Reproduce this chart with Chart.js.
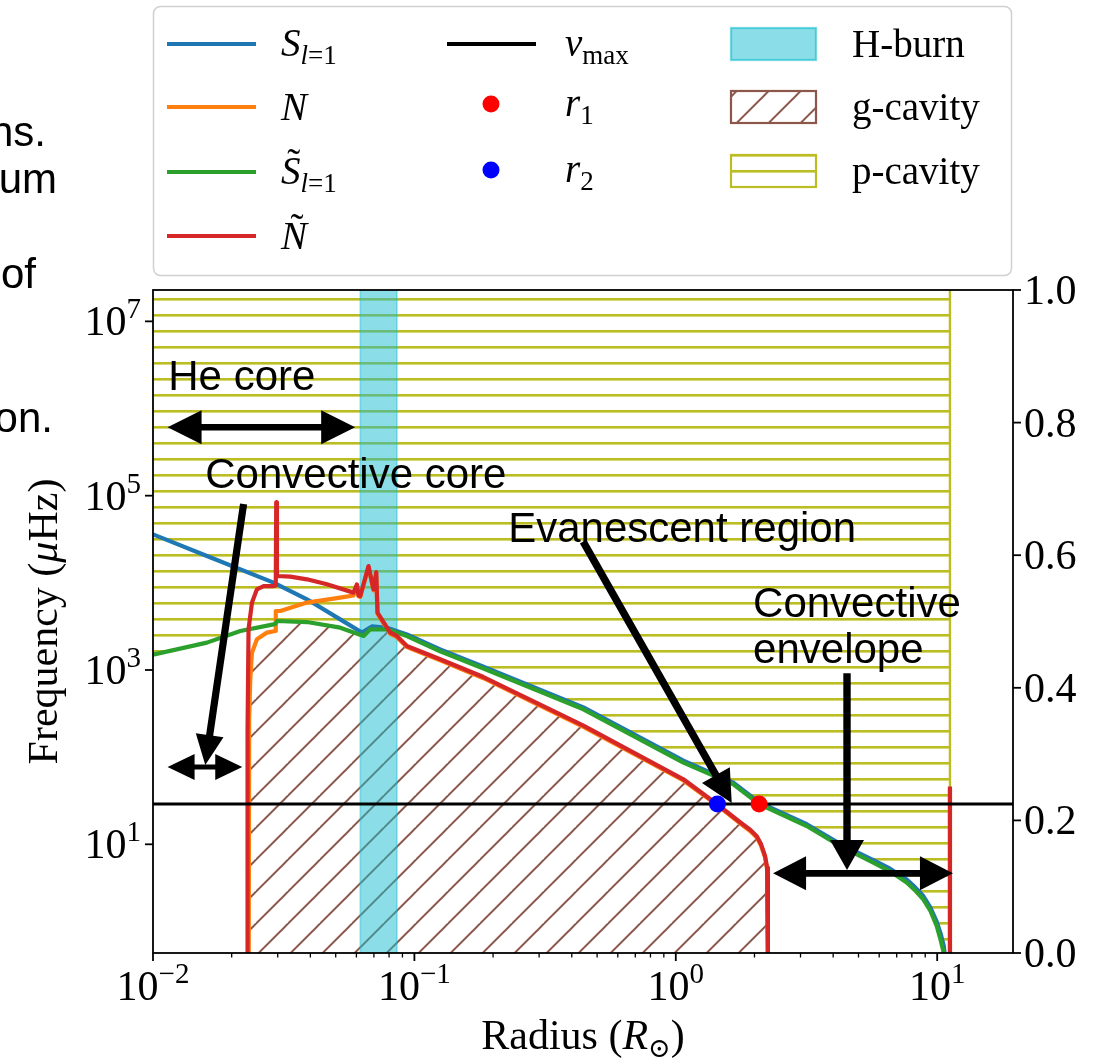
<!DOCTYPE html>
<html>
<head>
<meta charset="utf-8">
<script src="https://cdn.jsdelivr.net/npm/chart.js@4.4.1/dist/chart.umd.min.js"></script>
<style>
  html, body { margin: 0; padding: 0; background: #fff; }
</style>
</head>
<body>
<canvas id="freqChart" width="1113" height="1064"></canvas>
<script>
// axis ranges and ticks
const xMin = 0.01, xMax = 19.5;
const yMin = 0.566, yMax = 2.29e7;
const xTicks = [0.01, 0.1, 1, 10];
const xTickExp = ['\u22122', '\u22121', '0', '1'];
const yTicks = [1e1, 1e3, 1e5, 1e7];
const yTickExp = ['1', '3', '5', '7'];
const rightTicks = [0, 0.2, 0.4, 0.6, 0.8, 1.0];

// [radius (Rsun), frequency (uHz)]
const lambS = [[0.01, 36000], [0.01608, 20300], [0.02892, 10050], [0.03881, 6470], [0.05202, 3810],
  [0.0630, 2690], [0.06896, 3170], [0.07849, 3050], [0.09361, 2560], [0.1255, 1720], [0.1838, 1090],
  [0.4433, 372], [1.0693, 91], [1.661, 51], [2.083, 30.3], [3.170, 17.0], [4.249, 10.1], [5.696, 6.6],
  [6.6, 5.25], [7.644, 3.95], [8.2, 3.25], [8.848, 2.55], [9.4, 1.9], [9.957, 1.3], [10.3, 0.95],
  [10.6, 0.68], [10.8, 0.4]];

const bruntN = [[0.02324, 0.4], [0.02333, 272], [0.02356, 782], [0.02391, 1580], [0.02498, 2250],
  [0.02729, 2685], [0.02936, 2800], [0.02949, 4750], [0.03068, 4750], [0.03881, 5930], [0.05202, 6760],
  [0.05849, 7150], [0.06027, 9000], [0.06114, 7000], [0.06207, 6900], [0.06675, 15000], [0.06975, 8200],
  [0.07144, 12800], [0.07226, 4400], [0.08082, 2600], [0.08574, 2380], [0.09361, 1830], [0.1255, 1290],
  [0.1838, 805], [0.4433, 223], [1.0693, 54], [1.435, 28.3], [1.762, 17.4], [1.93, 14.1], [2.041, 12.0],
  [2.12, 9.6], [2.195, 7.1], [2.235, 5.2], [2.25, 2.4], [2.252, 0.4], [5, null], [11.19, 0.4], [11.19, 44]];

const lambSmod = [[0.01, 1500], [0.01608, 2060], [0.02158, 2800], [0.02892, 3340], [0.0294, 3380],
  [0.0298, 3650], [0.03881, 3550], [0.05202, 3060], [0.06391, 2455], [0.06776, 2930], [0.07849, 2930],
  [0.09361, 2450], [0.1255, 1640], [0.1838, 1040], [0.4433, 354], [1.0693, 86.6], [1.661, 48.8],
  [2.083, 29], [3.170, 16.2], [4.249, 9.57], [5.696, 6.17], [6.6, 4.9], [7.644, 3.64], [8.2, 3.0],
  [8.848, 2.34], [9.4, 1.75], [9.957, 1.16], [10.25, 0.85], [10.55, 0.60], [10.65, 0.4]];

const bruntNmod = [[0.0230, 0.4], [0.0230, 208], [0.0232, 2930], [0.02391, 5930], [0.02498, 8430],
  [0.02649, 9190], [0.02892, 9190], [0.02949, 9300], [0.02961, 83900], [0.0298, 11970], [0.0335, 11780],
  [0.03881, 10970], [0.04628, 9610], [0.05849, 7720], [0.06027, 9610], [0.06114, 7190], [0.06207, 7060],
  [0.06675, 15590], [0.06975, 8430], [0.07144, 13300], [0.07226, 4550], [0.08082, 2685], [0.08574, 2455],
  [0.09361, 1884], [0.1255, 1327], [0.1838, 830], [0.4433, 230], [1.0693, 55.7], [1.435, 29],
  [1.762, 17.9], [1.93, 14.6], [2.041, 12.4], [2.12, 10.0], [2.195, 7.35], [2.235, 5.4], [2.25, 2.5],
  [2.252, 0.4], [5, null], [11.19, 0.4], [11.19, 46]];

// upper edge of the g-cavity (lowest of N, S~, N~)
const gCavityTop = [[0.0230, 0.4], [0.0231, 200], [0.02356, 782], [0.02391, 1580], [0.02498, 2250],
  [0.02729, 2685], [0.02936, 2800], [0.02945, 3380], [0.0298, 3650], [0.03881, 3550], [0.05202, 3060],
  [0.06391, 2455], [0.06776, 2930], [0.07849, 2930], [0.08082, 2685], [0.08574, 2455], [0.09361, 1884],
  [0.1255, 1327], [0.1838, 830], [0.4433, 230], [1.0693, 55.7], [1.435, 29], [1.762, 17.9], [1.93, 14.6],
  [2.041, 12.4], [2.12, 10.0], [2.195, 7.35], [2.235, 5.4], [2.25, 2.5], [2.252, 0.4]];

const rStar = 11.19;
const hBurn = [0.0621, 0.0857];
const numax = 29;
const r1 = [2.083, 29];
const r2 = [1.443, 29];

const SERIF = '"Liberation Serif", "DejaVu Serif", serif';
const SANS = '"Liberation Sans", Arial, sans-serif';
const C = { blue: '#1f77b4', orange: '#ff7f0e', green: '#2ca02c', red: '#d62728',
  olive: '#bcbd22', brown: '#8c564b', cyan: 'rgba(23,190,207,0.5)' };

const pts = a => a.map(p => ({ x: p[0], y: p[1] }));

const canvas = document.getElementById('freqChart');
const ctx = canvas.getContext('2d');

function hatchLines() {
  const c = document.createElement('canvas');
  c.width = 16; c.height = 16;
  const g = c.getContext('2d');
  g.fillStyle = C.olive;
  g.fillRect(0, 10, 16, 2.6);
  return ctx.createPattern(c, 'repeat');
}
function hatchDiag() {
  const c = document.createElement('canvas');
  c.width = 32; c.height = 32;
  const g = c.getContext('2d');
  g.strokeStyle = C.brown;
  g.lineWidth = 2;
  [-4.3, 27.7, 59.7].forEach(s => {
    g.beginPath(); g.moveTo(s + 4, -4); g.lineTo(s - 36, 36); g.stroke();
  });
  return ctx.createPattern(c, 'repeat');
}
const patH = hatchLines();
const patD = hatchDiag();

function fontOf(s, it) { return (it ? 'italic ' : '') + s + 'px ' + SERIF; }

// draw a run of text pieces {t, s, i, dy, tilde}
function drawMath(g, x, y, parts, align) {
  let w = 0;
  parts.forEach(p => { g.font = fontOf(p.s, p.i); w += g.measureText(p.t).width; });
  let cx = align === 'right' ? x - w : align === 'center' ? x - w / 2 : x;
  g.textAlign = 'left';
  g.textBaseline = 'alphabetic';
  parts.forEach(p => {
    g.font = fontOf(p.s, p.i);
    const pw = g.measureText(p.t).width;
    g.fillText(p.t, cx, y + (p.dy || 0));
    if (p.tilde) {
      g.font = fontOf(p.s, false);
      const tw = g.measureText('\u02dc').width;
      g.fillText('\u02dc', cx + pw / 2 - tw / 2 + 3, y - p.s * 0.2);
    }
    cx += pw;
  });
  return w;
}

function arrow(g, x0, y0, x1, y1, sw, hl, hw, both) {
  const L = Math.hypot(x1 - x0, y1 - y0);
  g.save();
  g.translate(x0, y0);
  g.rotate(Math.atan2(y1 - y0, x1 - x0));
  g.beginPath();
  if (both) { g.moveTo(0, 0); g.lineTo(hl, -hw); g.lineTo(hl, -sw); }
  else g.moveTo(0, -sw);
  g.lineTo(L - hl, -sw); g.lineTo(L - hl, -hw); g.lineTo(L, 0); g.lineTo(L - hl, hw); g.lineTo(L - hl, sw);
  if (both) { g.lineTo(hl, sw); g.lineTo(hl, hw); }
  else g.lineTo(0, sw);
  g.closePath();
  g.fillStyle = '#000';
  g.fill();
  g.restore();
}

const notes = [
  { t: 'He core', x: 0.01144, y: 1.633e6 },
  { t: 'Convective core', x: 0.01585, y: 1.226e5 },
  { t: 'Evanescent region', x: 0.2284, y: 2.966e4 },
  { t: 'Convective', x: 1.975, y: 4089 },
  { t: 'envelope', x: 1.975, y: 1203 }
];
const arrows = [
  { a: [0.01137, 6.093e5], b: [0.05935, 6.093e5], both: true, sw: 3.2, hl: 34, hw: 17 },
  { a: [0.02221, 8.03e4], b: [0.01585, 81.3], both: false, sw: 3.6, hl: 30, hw: 14 },
  { a: [0.01137, 77.1], b: [0.02195, 77.1], both: true, sw: 2.6, hl: 27, hw: 13 },
  { a: [0.4421, 2.966e4], b: [1.637, 29.8], both: false, sw: 3.7, hl: 32, hw: 16 },
  { a: [4.519, 916.7], b: [4.519, 5.07], both: false, sw: 3.7, hl: 30, hw: 17 },
  { a: [2.356, 4.65], b: [11.49, 4.65], both: true, sw: 3.4, hl: 33, hw: 17 }
];

const overlay = {
  id: 'overlay',
  beforeDraw(chart) {
    const g = chart.ctx;
    g.save();
    g.fillStyle = '#fff';
    g.fillRect(0, 0, chart.width, chart.height);
    g.restore();
  },
  afterDatasetsDraw(chart) {
    const g = chart.ctx, xs = chart.scales.x, ys = chart.scales.y;
    g.save();
    g.fillStyle = '#000';
    g.font = '42px ' + SANS;
    g.textAlign = 'left';
    g.textBaseline = 'alphabetic';
    notes.forEach(n => g.fillText(n.t, xs.getPixelForValue(n.x), ys.getPixelForValue(n.y)));
    arrows.forEach(r => arrow(g, xs.getPixelForValue(r.a[0]), ys.getPixelForValue(r.a[1]),
      xs.getPixelForValue(r.b[0]), ys.getPixelForValue(r.b[1]), r.sw, r.hl, r.hw, r.both));
    g.restore();
  },
  afterDraw(chart) {
    const g = chart.ctx, a = chart.chartArea;
    const xs = chart.scales.x, ys = chart.scales.y, y2 = chart.scales.y2;
    g.save();
    g.strokeStyle = '#000';
    g.fillStyle = '#000';

    // ticks
    const tick = (x0, y0, x1, y1, w) => { g.lineWidth = w; g.beginPath(); g.moveTo(x0, y0); g.lineTo(x1, y1); g.stroke(); };
    for (let e = -2; e <= 1; e++) {
      for (let k = 2; k <= 9; k++) {
        const v = k * Math.pow(10, e);
        if (v > xMax) break;
        const px = xs.getPixelForValue(v);
        tick(px, a.bottom, px, a.bottom + 4.5, 1.3);
      }
    }
    xTicks.forEach((v, i) => {
      const px = xs.getPixelForValue(v);
      tick(px, a.bottom, px, a.bottom + 8, 1.8);
      const w = drawMath(g, -1000, -1000, [{ t: '10', s: 42 }, { t: xTickExp[i], s: 29 }], 'left');
      drawMath(g, px - w / 2, a.bottom + 47, [{ t: '10', s: 42 }, { t: xTickExp[i], s: 29, dy: -17 }], 'left');
    });
    yTicks.forEach((v, i) => {
      const py = ys.getPixelForValue(v);
      tick(a.left, py, a.left - 8, py, 1.8);
      drawMath(g, a.left - 12, py + 14, [{ t: '10', s: 42 }, { t: yTickExp[i], s: 29, dy: -17 }], 'right');
    });
    rightTicks.forEach(v => {
      const py = y2.getPixelForValue(v);
      tick(a.right, py, a.right + 8, py, 1.8);
      drawMath(g, a.right + 11, py + 14, [{ t: v.toFixed(1), s: 42 }], 'left');
    });

    // spines
    g.lineWidth = 1.8;
    g.strokeRect(a.left, a.top, a.right - a.left, a.bottom - a.top);

    // axis titles
    drawMath(g, (a.left + a.right) / 2, 1049, [{ t: 'Radius (', s: 42 }, { t: 'R', s: 42, i: true },
      { t: '\u2299', s: 27, dy: 8 }, { t: ')', s: 42 }], 'center');
    g.save();
    g.translate(57, (a.top + a.bottom) / 2);
    g.rotate(-Math.PI / 2);
    drawMath(g, 0, 0, [{ t: 'Frequency (', s: 42 }, { t: '\u03bc', s: 42, i: true }, { t: 'Hz)', s: 42 }], 'center');
    g.restore();

    // text fragments cut at the left border
    g.font = '42px ' + SANS;
    g.textAlign = 'right';
    g.fillText('ns.', 46, 146);
    g.fillText('um', 57, 193);
    g.fillText('of', 36, 288);
    g.fillText('on.', 53, 432);

    // legend
    g.beginPath();
    g.roundRect(153.5, 6.5, 858, 269, 7);
    g.fillStyle = 'rgba(255,255,255,0.8)';
    g.fill();
    g.strokeStyle = '#d0d0d0';
    g.lineWidth = 1.5;
    g.stroke();
    g.fillStyle = '#000';
    const lineItem = (x, y, col, w) => { g.strokeStyle = col; g.lineWidth = w; g.beginPath(); g.moveTo(x, y); g.lineTo(x + 89, y); g.stroke(); };
    lineItem(167, 44, C.blue, 4);
    drawMath(g, 281, 56, [{ t: 'S', s: 39, i: true }, { t: 'l', s: 27, i: true, dy: 8 }, { t: '=1', s: 27, dy: 8 }]);
    lineItem(167, 107, C.orange, 4);
    drawMath(g, 281, 120, [{ t: 'N', s: 39, i: true }]);
    lineItem(167, 172, C.green, 4);
    drawMath(g, 281, 184, [{ t: 'S', s: 39, i: true, tilde: true }, { t: 'l', s: 27, i: true, dy: 8 }, { t: '=1', s: 27, dy: 8 }]);
    lineItem(167, 236, C.red, 4);
    drawMath(g, 281, 249, [{ t: 'N', s: 39, i: true, tilde: true }]);

    lineItem(447, 44, '#000', 4);
    drawMath(g, 565, 56, [{ t: '\u03bd', s: 39, i: true }, { t: 'max', s: 27, dy: 8 }]);
    [[104, '#ff0000', '1'], [170, '#0000ff', '2']].forEach(d => {
      g.fillStyle = d[1];
      g.beginPath(); g.arc(491, d[0], 8.5, 0, Math.PI * 2); g.fill();
      g.fillStyle = '#000';
      drawMath(g, 565, d[0] + 12, [{ t: 'r', s: 39, i: true }, { t: d[2], s: 27, dy: 8 }]);
    });

    const patch = (y, fill, stroke) => {
      g.fillStyle = fill; g.fillRect(731, y, 85, 32);
      g.strokeStyle = stroke; g.lineWidth = 2.2; g.strokeRect(731, y, 85, 32);
    };
    patch(28, C.cyan, 'rgba(23,190,207,0.6)');
    patch(91, patD, C.brown);
    patch(155, patH, C.olive);
    g.fillStyle = '#000';
    drawMath(g, 852, 57, [{ t: 'H-burn', s: 39 }]);
    drawMath(g, 852, 120, [{ t: 'g-cavity', s: 39 }]);
    drawMath(g, 852, 184, [{ t: 'p-cavity', s: 39 }]);
    g.restore();
  }
};

new Chart(ctx, {
  type: 'line',
  data: {
    datasets: [
      { label: 'p-cavity', data: pts(lambSmod.concat([[rStar, 0.4], [rStar, 1e9]])), fill: 'end',
        backgroundColor: patH, borderColor: C.olive, borderWidth: 2.4, order: 10 },
      { label: 'g-cavity', data: pts(gCavityTop), fill: 'start', backgroundColor: patD,
        borderColor: 'rgba(0,0,0,0)', borderWidth: 1, order: 9 },
      { label: 'H-burn', data: pts([[hBurn[0], 0.01], [hBurn[0], 1e9], [hBurn[1], 1e9], [hBurn[1], 0.01]]),
        fill: 'start', backgroundColor: C.cyan, borderColor: C.cyan, borderWidth: 1.6, order: 8 },
      { label: 'S_l=1', data: pts(lambS), borderColor: C.blue, borderWidth: 4.2, fill: false, order: 7 },
      { label: 'N', data: pts(bruntN), borderColor: C.orange, borderWidth: 4.2, fill: false, order: 6 },
      { label: 'S~_l=1', data: pts(lambSmod), borderColor: C.green, borderWidth: 4.2, fill: false, order: 5 },
      { label: 'N~', data: pts(bruntNmod), borderColor: C.red, borderWidth: 4.2, fill: false, order: 4 },
      { label: 'numax', data: pts([[xMin, numax], [xMax, numax]]), borderColor: '#000', borderWidth: 3.2, fill: false, order: 3 },
      { label: 'r1', data: pts([r1]), showLine: false, pointRadius: 8.5, pointBackgroundColor: '#ff0000', pointBorderWidth: 0, order: 2 },
      { label: 'r2', data: pts([r2]), showLine: false, pointRadius: 8.5, pointBackgroundColor: '#0000ff', pointBorderWidth: 0, order: 1 }
    ]
  },
  options: {
    responsive: false,
    animation: false,
    devicePixelRatio: 1,
    events: [],
    spanGaps: false,
    layout: { padding: { left: 153, right: 100, top: 290, bottom: 111 } },
    elements: { point: { radius: 0 }, line: { tension: 0, borderJoinStyle: 'round' } },
    scales: {
      x: { type: 'logarithmic', min: xMin, max: xMax, display: false },
      y: { type: 'logarithmic', min: yMin, max: yMax, display: false },
      y2: { type: 'linear', position: 'right', min: 0, max: 1, display: false }
    },
    plugins: { legend: { display: false }, tooltip: { enabled: false } }
  },
  plugins: [overlay]
});
</script>
</body>
</html>
